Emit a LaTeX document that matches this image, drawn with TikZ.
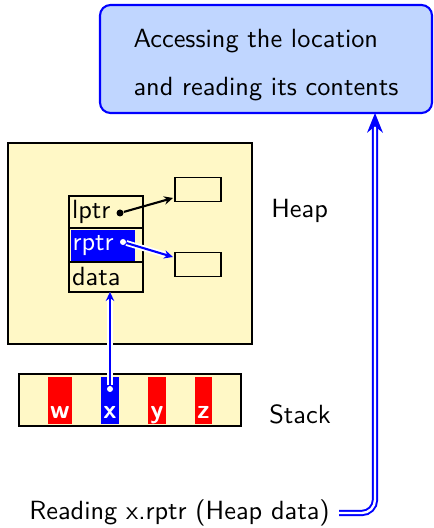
\documentclass[tikz,border=0pt]{standalone}
\usepackage{tikz}
\usetikzlibrary{arrows.meta}
\definecolor{heapyellow}{RGB}{255,248,198}
\definecolor{boxblue}{RGB}{192,214,255}
\def\pxu{0.38pt}
\tikzset{
  infobox/.style={draw=blue, line width=0.8pt, fill=boxblue, rounded corners=4pt, align=left,
    minimum width=332*\pxu, minimum height=108*\pxu},
  region/.style={draw=black, line width=0.5pt, fill=heapyellow},
  cell/.style={draw=black, line width=0.9pt, text width=68*\pxu, inner xsep=3*\pxu, inner ysep=0pt,
    minimum height=32*\pxu, align=left},
  hilite/.style={fill=blue, text=white, text width=60*\pxu, inner xsep=2*\pxu, inner ysep=0pt,
    minimum height=31*\pxu, align=left},
  slot/.style={draw=black, line width=0.7pt, minimum width=46*\pxu, minimum height=24*\pxu},
  dot/.style={circle, inner sep=0pt, minimum size=6*\pxu},
  varcell/.style={text=white, font=\sffamily\bfseries, inner xsep=2*\pxu, inner ysep=6*\pxu,
    text height=35*\pxu, text depth=0pt},
  ptr/.style={draw=blue, line width=0.8pt, -{Stealth[length=3.4pt,width=3.2pt]},
    preaction={draw=white, line width=2.2pt}},
  bigarrow/.style={draw=blue, line width=0.75pt, double=white, double distance=0.9pt,
    rounded corners=5pt, -{Stealth[length=7.5pt,width=6pt]}}
}
\begin{document}
\begin{tikzpicture}[x=0.38pt,y=0.38pt,yscale=-1,xscale=1,font=\sffamily]
\useasboundingbox (0,0) rectangle (433,528);
\node[infobox] (access) at (266,59) {\rule{0pt}{11.5pt}Accessing the location\\[6.2pt]and reading its contents};

\node[region, minimum width=244*\pxu, minimum height=201*\pxu] (heap) at (130,243.5) {};
\node[anchor=west] (heaplbl) at (262,211) {Heap};
\node[cell] (lptr) at (106,212) {lptr};
\node[cell, minimum height=34*\pxu] (rptr) at (106,245) {};
\node[hilite, anchor=west] (rptrtxt) at (70,245.5) {rptr};
\node[cell, minimum height=30*\pxu] (data) at (106,277) {data};
\node[slot] (lbox) at (198,189.5) {};
\node[slot] (rbox) at (198,264.5) {};
\node[dot, fill=black, minimum size=7*\pxu] (ldot) at (120,213) {};
\node[dot, fill=white] (rdot) at (123,242) {};
\coordinate (lend) at (173,198);
\coordinate (rend) at (173,257);
\draw[black, line width=0.8pt, -{Stealth[length=3.4pt,width=3.2pt]}] (ldot) -- (lend);
\draw[ptr] (rdot) -- (rend);

\node[region, minimum width=222*\pxu, minimum height=52*\pxu] (stack) at (130,400) {};
\node[anchor=west] (stacklbl) at (260,414) {Stack};
\foreach \v/\cx/\col in {w/60/red, x/110/blue, y/157/red, z/203.5/red}
  \node[varcell, fill=\col] (\v) at (\cx,400.5) {\v};
\node[dot, fill=white] (xdot) at (110,389) {};
\coordinate (dend) at (110,292);
\draw[ptr] (xdot) -- (dend);

\node[anchor=east] (reading) at (339,513) {Reading x.rptr (Heap data)};
\coordinate (tip) at (375,113);
\draw[bigarrow] (reading.east) -| (tip);
\end{tikzpicture}
\end{document}
